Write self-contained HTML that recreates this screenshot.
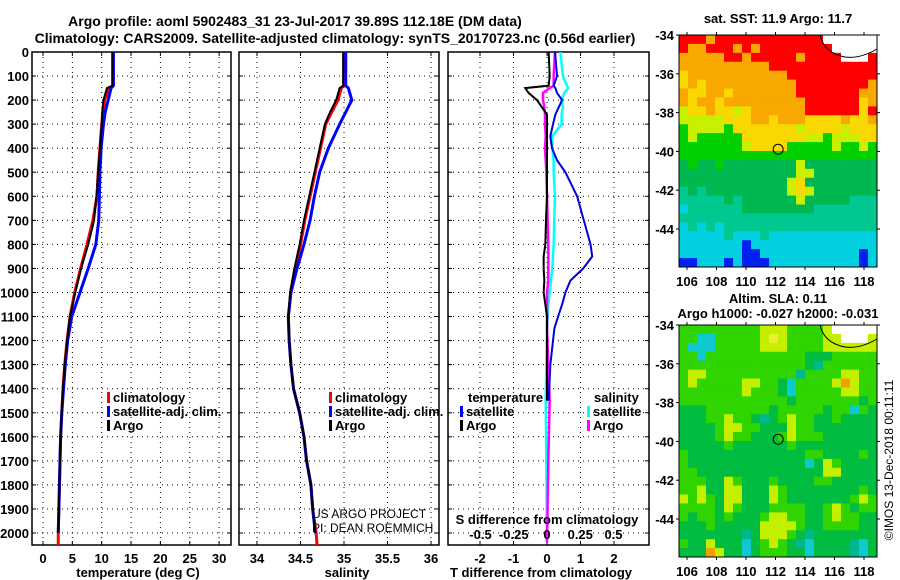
<!DOCTYPE html>
<html><head><meta charset="utf-8"><style>
body{margin:0;background:#fff;}
svg{display:block;font-family:"Liberation Sans",sans-serif;font-weight:bold;}
</style></head><body>
<svg id="c" width="900" height="580" viewBox="0 0 900 580">
<text x="295" y="26" text-anchor="middle" font-size="14">Argo profile: aoml 5902483_31 23-Jul-2017 39.89S 112.18E (DM data)</text>
<text x="335" y="43" text-anchor="middle" font-size="14">Climatology: CARS2009. Satellite-adjusted climatology: synTS_20170723.nc (0.56d earlier)</text>
<text x="778" y="23" text-anchor="middle" font-size="13">sat. SST: 11.9 Argo: 11.7</text>
<text x="778" y="303" text-anchor="middle" font-size="13">Altim. SLA: 0.11</text>
<text x="778" y="318" text-anchor="middle" font-size="13">Argo h1000: -0.027 h2000: -0.031</text>
<text transform="translate(893,460) rotate(-90)" text-anchor="middle" font-size="12" font-weight="normal">©IMOS 13-Dec-2018 00:11:11</text>
<text x="312" y="518" font-size="12" font-weight="normal">US ARGO PROJECT</text>
<text x="312" y="532" font-size="12" font-weight="normal">PI: DEAN ROEMMICH</text>
<g id="plots"></g>
</svg>
<script>
// ---- data ----
const depthTicks = [0,100,200,300,400,500,600,700,800,900,1000,1100,1200,1300,1400,1500,1600,1700,1800,1900,2000];
const profDepth = [0,140,150,200,250,300,400,500,600,700,800,900,1000,1100,1200,1300,1400,1500,1600,1700,1800,1900,2000];
const argoT = [11.8,11.8,10.9,10.3,10.1,10.0,9.7,9.4,9.1,8.7,7.7,6.5,5.5,4.6,4.1,3.7,3.4,3.2,3.0,2.9,2.8,2.7,2.6];
const climT = [11.9,11.9,11.2,10.5,10.2,10.0,9.7,9.4,9.2,8.5,7.5,6.4,5.4,4.6,4.1,3.7,3.4,3.2,3.0,2.9,2.8,2.7,2.6];
const satT  = [12.0,12.0,11.6,11.1,10.6,10.3,9.9,9.7,9.6,9.5,9.0,7.7,6.3,4.9,4.2,3.8,3.5,3.2,3.0,2.9,2.8,2.7,2.6];
const argoS = [34.99,34.99,34.95,34.91,34.84,34.78,34.72,34.66,34.60,34.54,34.49,34.43,34.38,34.36,34.37,34.39,34.42,34.49,34.54,34.57,34.62,34.64,34.67];
const climS = [35.00,35.00,34.97,34.93,34.86,34.79,34.73,34.67,34.61,34.55,34.50,34.44,34.39,34.36,34.37,34.39,34.42,34.49,34.54,34.57,34.62,34.64,34.68];
const satS  = [35.02,35.02,35.05,35.09,35.02,34.95,34.82,34.72,34.66,34.61,34.54,34.46,34.39,34.36,34.37,34.39,34.42,34.49,34.54,34.57,34.62,34.64,34.67];
const diffDepth = [0,100,140,150,170,200,230,260,300,350,400,450,500,600,700,800,850,900,950,1000,1050,1100,1150,1300,1450];
const argoTdiff = [0.05,0.08,0.05,-0.65,-0.55,-0.3,-0.15,0,0,0,0,0,0,0,-0.03,-0.05,-0.1,-0.1,-0.08,-0.1,-0.05,0,0,0,0];
const satTdiff  = [0.24,0.3,0.2,0.25,0.3,0.45,0.35,0.25,0.18,0.1,0.15,0.3,0.55,0.9,1.1,1.3,1.35,1.08,0.7,0.55,0.45,0.33,0.22,0.1,0.05];
const sDiffDepth = [0,100,140,150,170,200,230,260,300,350,400,450,500,600,700,800,850,900,950,1000,1050,1100,1150,1300,1450,1700,2040];
const satSdiff  = [0.1,0.12,0.15,0.16,0.13,0.11,0.12,0.11,0.11,0.04,0.04,0.05,0.05,0.06,0.055,0.05,0.045,0.04,0.03,0.02,0.01,0.005,0,-0.005,-0.01,-0.005,0];
const argoSdiff = [0.06,0.05,0.05,0.02,-0.03,-0.03,-0.02,-0.015,-0.015,-0.01,-0.015,-0.01,-0.005,0,0.005,0.01,0.01,0.01,0.01,0.0,0.0,0.0,0.0,0.01,0.02,0.01,0.0];
const tempTicks = [0,5,10,15,20,25,30];
const salTicks = [34,34.5,35,35.5,36];
const tdTicks = [-2,-1,0,1,2];
const sdTicks = [-0.5,-0.25,0,0.25,0.5];
const lonTicks = [106,108,110,112,114,116,118];
const latTicks = [-34,-36,-38,-40,-42,-44];
const sstGrid = [
"RRRORRRRRRRRRRRRWWWWWW","ROORRRORORRRRRRRRWWWWW","OOOOORRORRRRRORRRRWWWR","OOOOOOOOOORRRRRRRRRRRR",
"YOOOOOOOOOOORRRRRRRRRR","YOYOOOOOOOOOORRRRRRRRO","OYYOOYOOOOOOORRRRRRROO","OYOOYOOOOOOOOORRRRRRYO",
"LYYOYYLYOOOOOORRRRRRYR","LLLLLYYYOOYOOOYYYYOYYO","GLLLLGYYYYYYYLYYYYLYYY","GLGGGGGYYYYYYYLLGLLLYY",
"GGGGGGGLYYYYGGGGGLGGLG","GGGGGGGGGGGGGGGGGGGGGG","DGDDGDDDDDDDDLDDDDDDDD","DDDDDDDDDDDDDLLDDDDDDD",
"DDDDDDDDDDDDLYDDDDDDDD","TDTDDDDDDDDDLYLDDDDDDD","TTTTTDTDDDDDDLDDDDDTTT","CTTTTTTDDDDDDDDTTTTTTT",
"TTTTTTTTTTTTTTTTTTTTTT","CTCTCTTTTTTTTTTTTTTTTT","CCCCCTCCCTCCCCCCCCCCCC","CCCCCCCBCCCCCCCCCCCCCC",
"CCCCCCCBBCCCCCCCCCCCBC","BBCCCBCBBBCCCCCCCCCCBC"];
const slaGrid = [
"GGGGGGGGGYYYGGGGYWWWWW","GGCCGGGGGYyYGGGGYYWWWY","GCCCGGGGGYYYGGGGYYYYYY","GGCGGGGGGGGGGGDDDGGGGG",
"GGGGGGGGGGGGGGDTGGGGGG","GYYGGGGGGGGGGTGGGGYYGG","GYGGGGGYYGGDCGGGGYOYGG","GGGGGGGYGGGDCGGGGGYYGG",
"GGGGGGGGGGGGDGGGGGGGDG","DDDGGGGGGGDGGGGGDGGCGD","DDDGGYGGDTDGYGGDDGDDDD","DDDDGYYGGDDDYGGDDDDDDD",
"DDDDGYGGDDDGYGGGDDDDDD","DDDDDGDDDDDDGDDDDDDDDD","GDDDDDDDDDDDDDGGDDDDGD","GDDDDDDDDDDDDDCDYGDDDD",
"GGDDDDDDDDDDDDDDYYDDDD","GGGDDYGDDDGDDDDGGDDDDD","GGYDDYYDDDYGDDDDDDDDGD","YGYGDYYDDDYGDDDDDDDGYG",
"GGGGDYGDDDGGGGDDGYGDGG","GDGGDGDDDGYYGGDDGYGGDD","DDDGDDDDDYYYYGDDGGGGDD","DDDDDDDTDYYYGDTDDDDDDD",
"GDDYDDDCDGYGDTCDDDDTCD","DDDOYDDCDGGGDDCDDDDTCD"];
const sstColors = {R:"#ff0000",O:"#f8a800",Y:"#f8d800",L:"#c8f000",G:"#00d000",D:"#00b850",T:"#00c890",C:"#00d0e0",B:"#0020f0",W:"#ffffff"};
const slaColors = {G:"#30d400",D:"#00bc40",Y:"#c4f000",y:"#e8f030",O:"#f0a000",C:"#10c8d0",T:"#00b890",W:"#ffffff"};

// ---- helpers ----
const NS="http://www.w3.org/2000/svg";
const root=document.getElementById('plots');
function mk(tag,attrs,parent){const e=document.createElementNS(NS,tag);for(const k in attrs)e.setAttribute(k,attrs[k]);(parent||root).appendChild(e);return e;}
const TOP=52,BOT=545;
const yD=d=>TOP+d*0.2405;
const xT=v=>43+v*5.87;
const xS=v=>257+(v-34)*87;
const xTd=v=>547+v*33.5;
const xSd=v=>547+v*133;

function panel(name,x0,x1,xticks,xf,fmt,grid){
  const g=mk('g',{});
  
  
  const dash={stroke:'#000','stroke-width':1,'stroke-dasharray':'1,4'};
  depthTicks.forEach(d=>{if(d>0){const l=mk('line',Object.assign({x1:x0,x2:x1,y1:yD(d),y2:yD(d)},dash),g);}
    mk('line',{x1:x0,x2:x0+4,y1:yD(d),y2:yD(d),stroke:'#000'},g);mk('line',{x1:x1-4,x2:x1,y1:yD(d),y2:yD(d),stroke:'#000'},g);});
  xticks.forEach(v=>{const x=xf(v);
    if(grid){const l=mk('line',Object.assign({x1:x,x2:x,y1:TOP,y2:BOT},dash),g);}
    mk('line',{x1:x,x2:x,y1:BOT-4,y2:BOT,stroke:'#000'},g);mk('line',{x1:x,x2:x,y1:TOP,y2:TOP+4,stroke:'#000'},g);
    if(fmt){const t=mk('text',{x:x,y:563,'text-anchor':'middle','font-size':13},g);t.textContent=fmt(v);}
  });
  mk('rect',{x:x0,y:TOP,width:x1-x0,height:BOT-TOP,fill:'none',stroke:'#000','stroke-width':1.5},g);
  return g;
}
function line(g,xs,ds,xf,color,w,name){
  const p=mk('polyline',{points:xs.map((v,i)=>xf(v)+','+yD(ds[i])).join(' '),fill:'none',stroke:color,'stroke-width':w,'stroke-linejoin':'miter'},g);
  
  
}
function label(g,x,y,txt,name,anchor,size){const t=mk('text',{x:x,y:y,'text-anchor':anchor||'start','font-size':size||13},g);t.textContent=txt;return t;}
function legendItem(g,x,y,color,txt){
  mk('rect',{x:x,y:y-10,width:3,height:11,fill:color},g);
  label(g,x+6,y,txt,'legend-entry');
}

depthTicks.forEach(d=>{const t=mk('text',{x:29,y:yD(d)+5,'text-anchor':'end','font-size':13});t.textContent=d;});

const p1=panel('temperature-panel',32,231,tempTicks,xT,v=>String(v),true);
line(p1,climT.concat([2.6]),profDepth.concat([2050]),xT,'#ff0000',3,'climatology-temp-line');
line(p1,satT,profDepth,xT,'#0000ff',3,'satellite-temp-line');
line(p1,argoT,profDepth,xT,'#000',2,'argo-temp-line');
label(p1,138,577,'temperature (deg C)','x-axis-title','middle');
legendItem(p1,107,402,'#ff0000','climatology');
legendItem(p1,107,416,'#0000ff','satellite-adj. clim.');
legendItem(p1,107,430,'#000','Argo');

const p2=panel('salinity-panel',239,439,salTicks,xS,v=>String(v),true);
line(p2,climS.concat([34.69]),profDepth.concat([2050]),xS,'#ff0000',3,'climatology-sal-line');
line(p2,satS,profDepth,xS,'#0000ff',3,'satellite-sal-line');
line(p2,argoS,profDepth,xS,'#000',2,'argo-sal-line');
label(p2,347,577,'salinity','x-axis-title','middle');
legendItem(p2,329,402,'#ff0000','climatology');
legendItem(p2,329,416,'#0000ff','satellite-adj. clim.');
legendItem(p2,329,430,'#000','Argo');

const p3=panel('difference-panel',448,649,tdTicks,xTd,v=>String(v),true);
line(p3,satSdiff,sDiffDepth,xSd,'#00ffff',2.5,'satellite-sal-diff-line');
line(p3,argoSdiff,sDiffDepth,xSd,'#ff00ff',2.5,'argo-sal-diff-line');
line(p3,satTdiff,diffDepth,xTd,'#0000dd',2,'satellite-temp-diff-line');
line(p3,argoTdiff,diffDepth,xTd,'#000',2,'argo-temp-diff-line');
label(p3,541,577,'T difference from climatology','x-axis-title','middle');
label(p3,547,524,'S difference from climatology','s-axis-title','middle');
sdTicks.forEach(v=>{label(p3,xSd(v),539,String(v),'s-tick-label','middle',13);});
label(p3,468,402,'temperature','legend-title');
label(p3,594,402,'salinity','legend-title');
legendItem(p3,460,416,'#0000ff','satellite');
legendItem(p3,460,430,'#000','Argo');
legendItem(p3,587,416,'#00ffff','satellite');
legendItem(p3,587,430,'#ff00ff','Argo');

const MX0=679,MX1=877;
const xLon=l=>687+(l-106)*14.75;
function map(name,top,gridRows,colors){
  const g=mk('g',{});
  
  
  const nr=gridRows.length,nc=gridRows[0].length,cw=(MX1-MX0)/nc,ch=232/nr;
  gridRows.forEach((row,r)=>{for(let c=0;c<nc;c++){
    const cell=mk('rect',{x:MX0+c*cw,y:top+r*ch,width:cw+0.5,height:ch+0.5,fill:colors[row[c]]},g);
    
    }});
  const land=mk('path',{d:`M${820} ${top} Q824 ${top+18} 845 ${top+22} Q860 ${top+24} 877 ${top+14}`,fill:'none',stroke:'#000','stroke-width':1},g);
  
  const yLat=l=>top+(-34-l)*19.4;
  lonTicks.forEach(l=>{mk('line',{x1:xLon(l),x2:xLon(l),y1:top,y2:top-3,stroke:'#000'},g);mk('line',{x1:xLon(l),x2:xLon(l),y1:top+232,y2:top+235,stroke:'#000'},g);
    label(g,xLon(l),top+251,String(l),'lon-tick-label','middle',13);});
  latTicks.forEach(l=>{mk('line',{x1:MX0-3,x2:MX0,y1:yLat(l),y2:yLat(l),stroke:'#000'},g);mk('line',{x1:MX1,x2:MX1+3,y1:yLat(l),y2:yLat(l),stroke:'#000'},g);
    label(g,MX0-5,yLat(l)+5,String(l),'lat-tick-label','end',13);});
  mk('rect',{x:MX0,y:top,width:MX1-MX0,height:232,fill:'none',stroke:'#000','stroke-width':1},g);
  const fl=mk('circle',{cx:xLon(112.18),cy:yLat(-39.89),r:5,fill:'none',stroke:'#000','stroke-width':1},g);
  
}
map('sst-map',35,sstGrid,sstColors);
map('sla-map',325,slaGrid,slaColors);
</script>
</body></html>
